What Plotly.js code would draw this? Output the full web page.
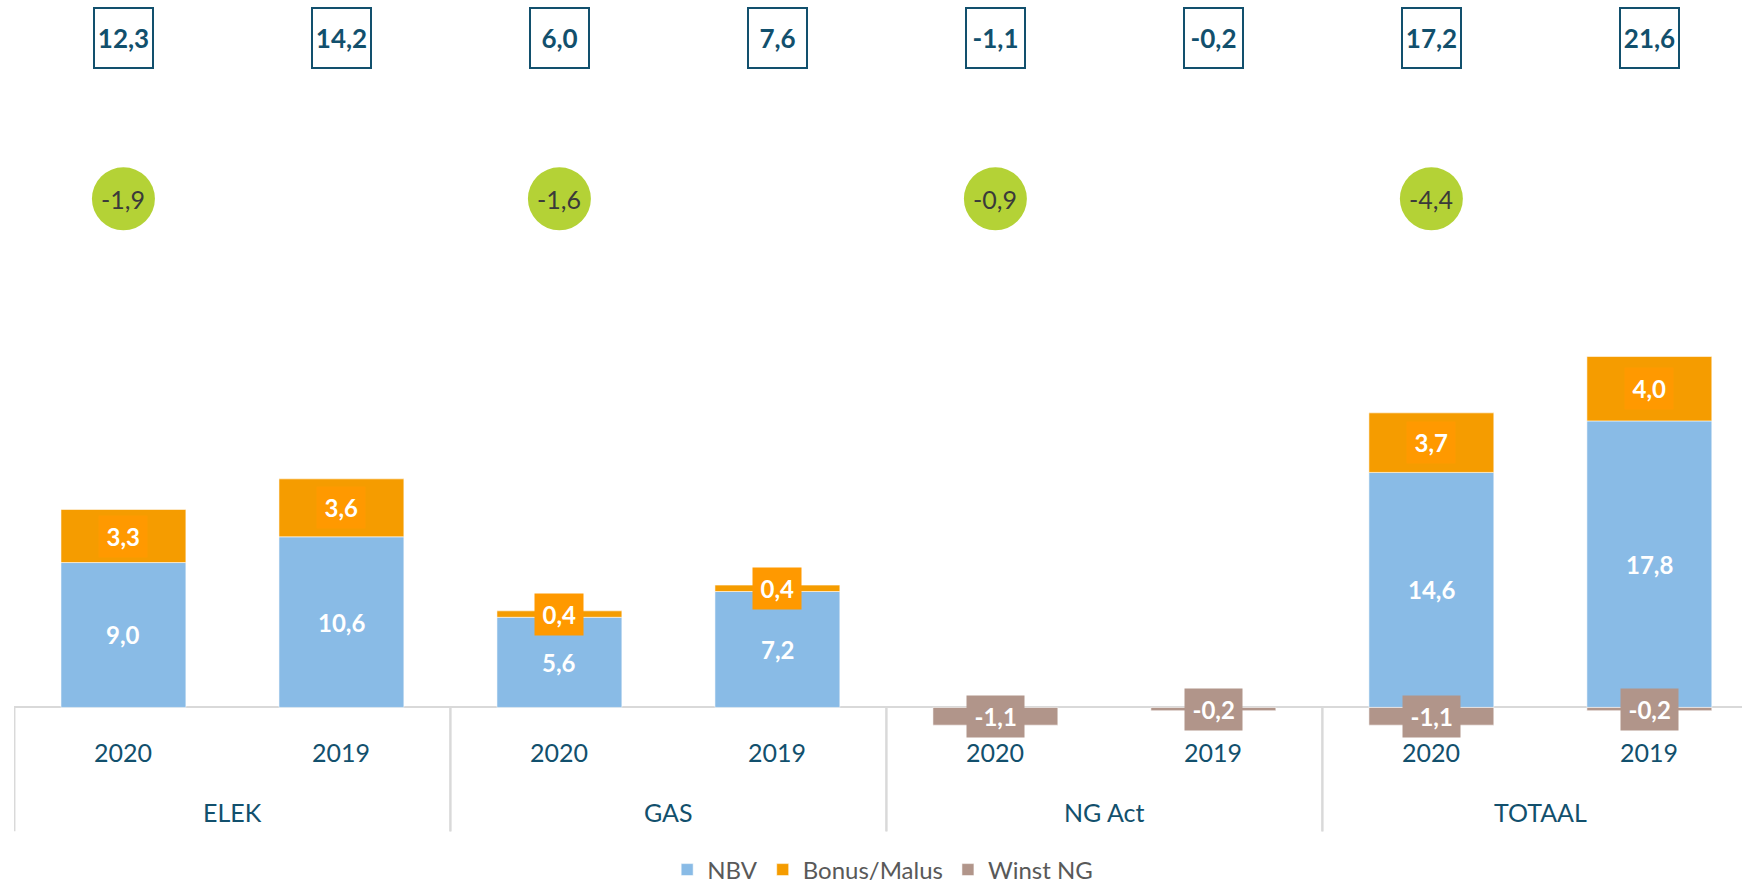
<!DOCTYPE html>
<html><head><meta charset="utf-8">
<script src="https://cdn.plot.ly/plotly-3.0.1.min.js"></script>
<style>html,body{margin:0;padding:0;background:#fff;overflow:hidden}#chart{width:1742px;height:884px}</style>
</head><body><div id="chart"></div>
<script>
// ---- data ----
const groups = ['ELEK','ELEK','GAS','GAS','NG Act','NG Act','TOTAAL','TOTAAL'];
const years = ['2020','2019','2020','2019','2020','2019','2020','2019'];
const nbv = [9.0, 10.6, 5.6, 7.2, null, null, 14.6, 17.8];
const bonusMalus = [3.3, 3.6, 0.4, 0.4, null, null, 3.7, 4.0];
const winstNG = [null, null, null, null, -1.1, -0.2, -1.1, -0.2];
const totals = [12.3, 14.2, 6.0, 7.6, -1.1, -0.2, 17.2, 21.6];
const diffIdx = [0, 2, 4, 6];
const diffs = [-1.9, -1.6, -0.9, -4.4];
const seriesNames = ['NBV', 'Bonus/Malus', 'Winst NG'];

// ---- style / layout constants ----
const FONT = 'Lato, "Open Sans", sans-serif';
const C_NBV = '#89BBE6', C_BM = '#F59C00', C_BM_LBL = '#FF9900', C_W = '#B1958A';
const TEAL = '#12506D', GRID = '#D9D9D9';
const BOX_Y = 41.6, CIRCLE_Y = 31.6;
const YEAR_Y = -2.75, GROUP_Y = -6.5, DIV_Y = -7.7;
const YMIN = -8.05, YMAX = 43.95;

function fmt(v){ return v.toFixed(1).replace('.', ','); }
const HS = '\u200A';
function boxed(v){ return HS + fmt(v) + HS; }

const x = [groups, years];
const mk = (name, y, color) => ({
  type: 'bar', name, x, y,
  marker: {color, line: {color: 'rgba(255,255,255,0.55)', width: 1}},
  hoverinfo: 'skip'
});
const data = [mk(seriesNames[0], nbv, C_NBV), mk(seriesNames[1], bonusMalus, C_BM), mk(seriesNames[2], winstNG, C_W)];

const annotations = [];
const shapes = [];
const lblFont = {family: FONT, size: 24, color: '#ffffff', weight: 'bold'};
for (let i = 0; i < groups.length; i++) {
  if (nbv[i] != null) annotations.push({x: i, y: nbv[i] / 2, xref: 'x', yref: 'y', text: fmt(nbv[i]), showarrow: false, font: lblFont});
  if (bonusMalus[i] != null) annotations.push({x: i, y: (nbv[i] || 0) + bonusMalus[i] / 2, xref: 'x', yref: 'y', text: boxed(bonusMalus[i]), showarrow: false,
    bgcolor: C_BM_LBL, borderpad: 6, font: lblFont});
  if (winstNG[i] != null) annotations.push({x: i, y: winstNG[i] / 2, xref: 'x', yref: 'y', text: boxed(winstNG[i]), showarrow: false,
    bgcolor: C_W, borderpad: 6, font: lblFont});
  annotations.push({x: i, y: BOX_Y, xref: 'x', yref: 'y', text: fmt(totals[i]), showarrow: false,
    bgcolor: '#ffffff', bordercolor: TEAL, borderwidth: 2, borderpad: 1, width: 55, height: 56,
    font: {family: FONT, size: 26, color: TEAL, weight: 'bold'}});
  // year tick label
  annotations.push({x: i, y: YEAR_Y, xref: 'x', yref: 'y', text: years[i], showarrow: false,
    font: {family: FONT, size: 25, color: TEAL}});
}
// group labels and dividers
const groupNames = [...new Set(groups)];
groupNames.forEach(g => {
  const idx = groups.map((v, i) => v === g ? i : -1).filter(i => i >= 0);
  const first = Math.min(...idx), last = Math.max(...idx);
  annotations.push({x: (first + last) / 2, y: GROUP_Y, xref: 'x', yref: 'y', text: g, showarrow: false,
    font: {family: FONT, size: 25, color: TEAL}});
  [first - 0.5, last + 0.5].forEach(b => shapes.push({type: 'line', xref: 'x', yref: 'y', x0: b, x1: b, y0: 0, y1: DIV_Y,
    line: {color: GRID, width: 2}, layer: 'below'}));
});
diffIdx.forEach((xi, k) => {
  shapes.push({type: 'circle', xref: 'x', yref: 'y', xsizemode: 'pixel', ysizemode: 'pixel',
    xanchor: xi, yanchor: CIRCLE_Y, x0: -31.5, x1: 31.5, y0: -31.5, y1: 31.5,
    fillcolor: '#B4D236', line: {width: 0}, layer: 'above'});
  annotations.push({x: xi, y: CIRCLE_Y, xref: 'x', yref: 'y', text: fmt(diffs[k]), showarrow: false,
    font: {family: FONT, size: 25, color: '#3A3A3A'}});
});

const layout = {
  width: 1742, height: 884,
  margin: {l: 14, r: 0, t: 0, b: 47},
  paper_bgcolor: '#ffffff', plot_bgcolor: '#ffffff',
  barmode: 'relative', bargap: 0.427,
  font: {family: FONT, color: TEAL},
  xaxis: {
    type: 'multicategory', range: [-0.502, 7.425], anchor: 'free', position: (0 - YMIN) / (YMAX - YMIN),
    showline: true, linecolor: GRID, linewidth: 2, ticks: '', showticklabels: false,
    showdividers: false, layer: 'below traces',
    showgrid: false, zeroline: false, fixedrange: true
  },
  yaxis: {visible: false, range: [YMIN, YMAX], fixedrange: true, showgrid: false, zeroline: false},
  showlegend: true,
  legend: {orientation: 'h', x: 0.5067, xref: 'container', xanchor: 'center', y: 14 / 884, yref: 'container', yanchor: 'middle',
    traceorder: 'normal', font: {family: FONT, size: 24, color: '#595959'}},
  annotations, shapes
};

Plotly.newPlot('chart', data, layout, {displayModeBar: false, staticPlot: true});
</script>
</body></html>
